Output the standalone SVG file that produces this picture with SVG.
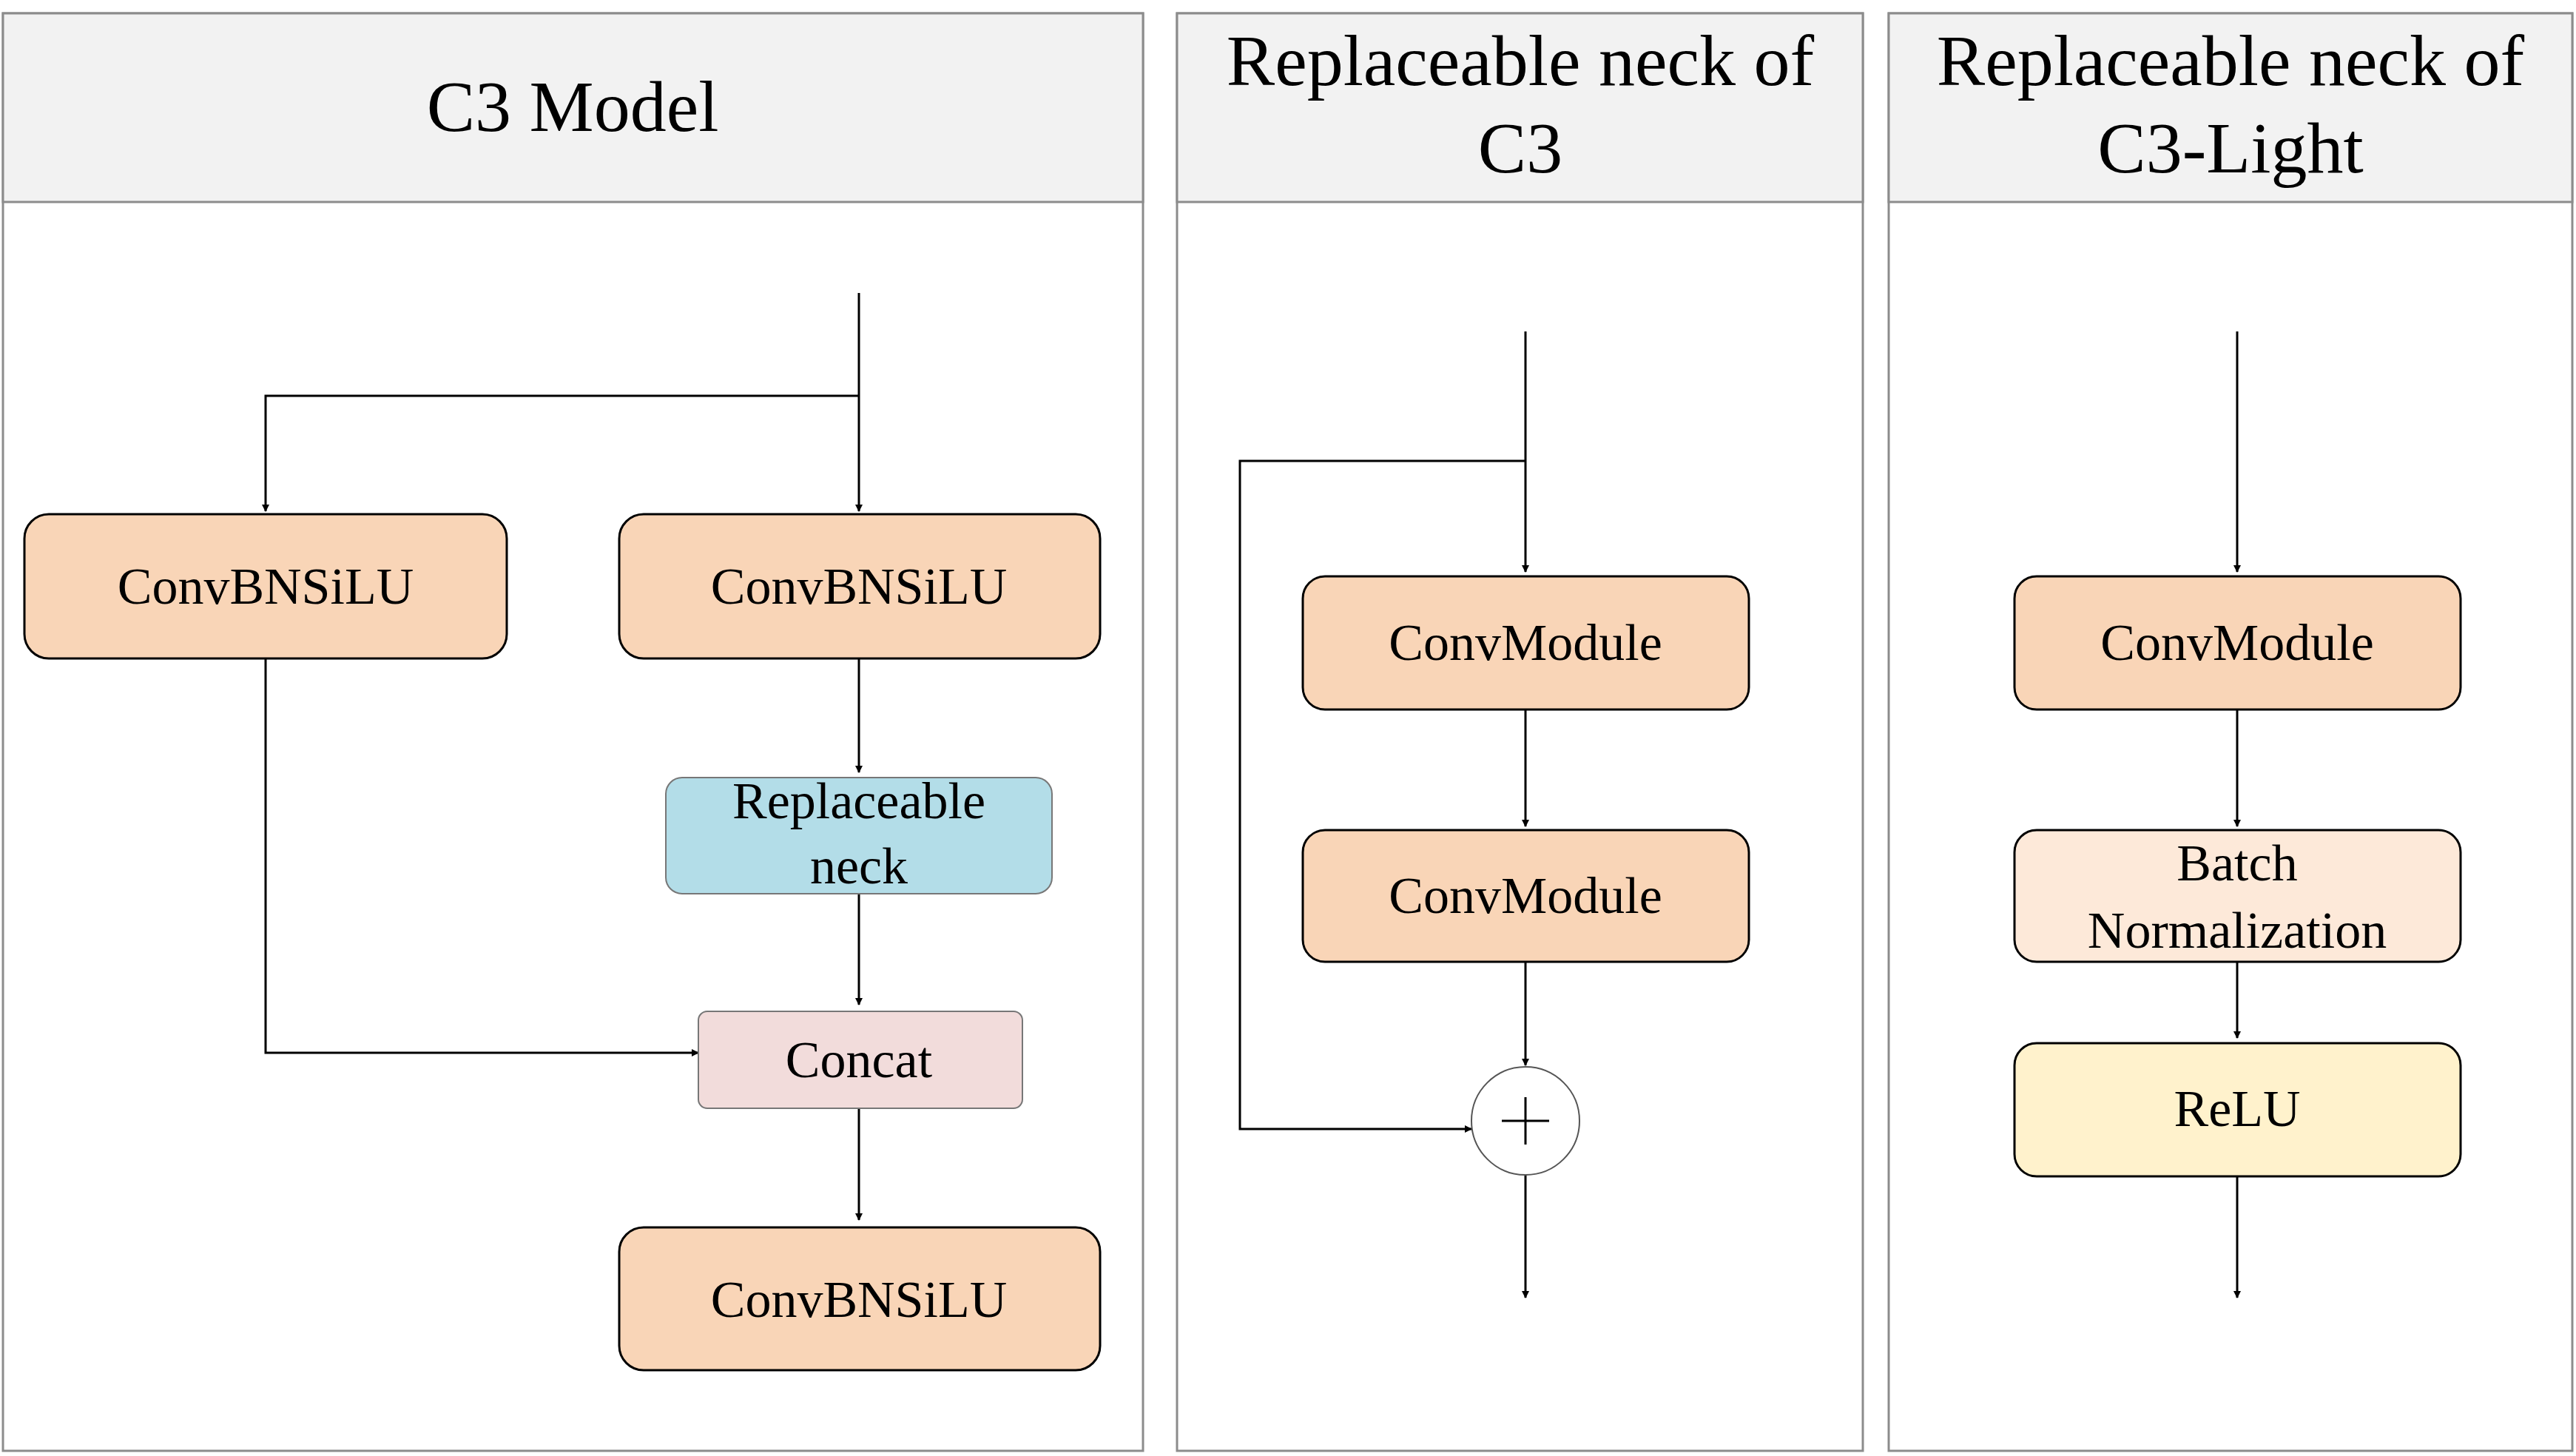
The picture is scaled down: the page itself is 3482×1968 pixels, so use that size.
<svg xmlns="http://www.w3.org/2000/svg" width="3482" height="1968" viewBox="0 0 3482 1968">
<style>
.panel{fill:#fff;stroke:#8c8c8c;stroke-width:3}
.hdr{fill:#f2f2f2;stroke:#8c8c8c;stroke-width:3}
.t{font-family:"Liberation Serif",serif;fill:#000;text-anchor:middle}
.h{font-size:98px}
.n{font-size:70px}
.box{stroke:#000;stroke-width:3}
.lite{stroke:#777;stroke-width:2}
.c{fill:none;stroke:#000;stroke-width:3}
</style>
<defs>
<marker id="a" markerWidth="10" markerHeight="10" refX="9" refY="5" orient="auto" markerUnits="userSpaceOnUse" viewBox="0 0 10 10">
<path d="M0,0 L10,5 L0,10 z" fill="#000"/>
</marker>
</defs>
<rect width="3482" height="1968" fill="#fff"/>
<g id="panels">
<rect class="panel" x="4" y="18" width="1541" height="1943"/>
<rect class="hdr" x="4" y="18" width="1541" height="255"/>
<text class="t h" x="774" y="177">C3 Model</text>
<rect class="panel" x="1591" y="18" width="927" height="1943"/>
<rect class="hdr" x="1591" y="18" width="927" height="255"/>
<text class="t h" x="2055" y="115">Replaceable neck of</text>
<text class="t h" x="2055" y="233">C3</text>
<rect class="panel" x="2553" y="18" width="924" height="1943"/>
<rect class="hdr" x="2553" y="18" width="924" height="255"/>
<text class="t h" x="3015" y="115">Replaceable neck of</text>
<text class="t h" x="3015" y="233">C3-Light</text>
</g>
<g id="connectors">
<path class="c" d="M1161,396 V691" marker-end="url(#a)" style="stroke-width:3"/>
<path class="c" d="M1161,535 H359 V691" marker-end="url(#a)"/>
<path class="c" d="M1161,884 V1044" marker-end="url(#a)"/>
<path class="c" d="M1161,1199 V1358" marker-end="url(#a)"/>
<path class="c" d="M359,884 V1423 H944" marker-end="url(#a)"/>
<path class="c" d="M1161,1489 V1649" marker-end="url(#a)"/>
<path class="c" d="M2062,448 V773" marker-end="url(#a)"/>
<path class="c" d="M2062,623 H1676 V1526 H1989" marker-end="url(#a)"/>
<path class="c" d="M2062,953 V1117" marker-end="url(#a)"/>
<path class="c" d="M2062,1294 V1440" marker-end="url(#a)"/>
<path class="c" d="M2062,1586 V1754" marker-end="url(#a)"/>
<path class="c" d="M3024,448 V773" marker-end="url(#a)"/>
<path class="c" d="M3024,953 V1117" marker-end="url(#a)"/>
<path class="c" d="M3024,1294 V1403" marker-end="url(#a)"/>
<path class="c" d="M3024,1582 V1754" marker-end="url(#a)"/>
</g>
<g id="c3-left"><rect class="box" x="33" y="695" width="652" height="195" rx="33" fill="#f9d5b7"/><text class="t n" x="359" y="816">ConvBNSiLU</text></g>
<g id="c3-right"><rect class="box" x="837" y="695" width="650" height="195" rx="33" fill="#f9d5b7"/><text class="t n" x="1161" y="816">ConvBNSiLU</text></g>
<g id="neck"><rect class="lite" x="900" y="1051" width="522" height="157" rx="22" fill="#b3dde8"/><text class="t n" x="1161" y="1106">Replaceable</text><text class="t n" x="1161" y="1194">neck</text></g>
<g id="concat"><rect class="lite" x="944" y="1367" width="438" height="131" rx="12" fill="#f2dcdb"/><text class="t n" x="1161" y="1456">Concat</text></g>
<g id="c3-bottom"><rect class="box" x="837" y="1659" width="650" height="193" rx="33" fill="#f9d5b7"/><text class="t n" x="1161" y="1780">ConvBNSiLU</text></g>
<g id="cm1"><rect class="box" x="1761" y="779" width="603" height="180" rx="30" fill="#f9d5b7"/><text class="t n" x="2062" y="892">ConvModule</text></g>
<g id="cm2"><rect class="box" x="1761" y="1122" width="603" height="178" rx="30" fill="#f9d5b7"/><text class="t n" x="2062" y="1234">ConvModule</text></g>
<g id="add"><circle cx="2062" cy="1515" r="73" fill="#fff" stroke="#555" stroke-width="2"/><path d="M2030,1515 H2094 M2062,1483 V1547" stroke="#000" stroke-width="3"/></g>
<g id="cm3"><rect class="box" x="2723" y="779" width="603" height="180" rx="30" fill="#f9d5b7"/><text class="t n" x="3024" y="892">ConvModule</text></g>
<g id="bn"><rect class="box" x="2723" y="1122" width="603" height="178" rx="30" fill="#fde9d9"/><text class="t n" x="3024" y="1190">Batch</text><text class="t n" x="3024" y="1281">Normalization</text></g>
<g id="relu"><rect class="box" x="2723" y="1410" width="603" height="180" rx="30" fill="#fff2cc"/><text class="t n" x="3024" y="1522">ReLU</text></g>
</svg>
